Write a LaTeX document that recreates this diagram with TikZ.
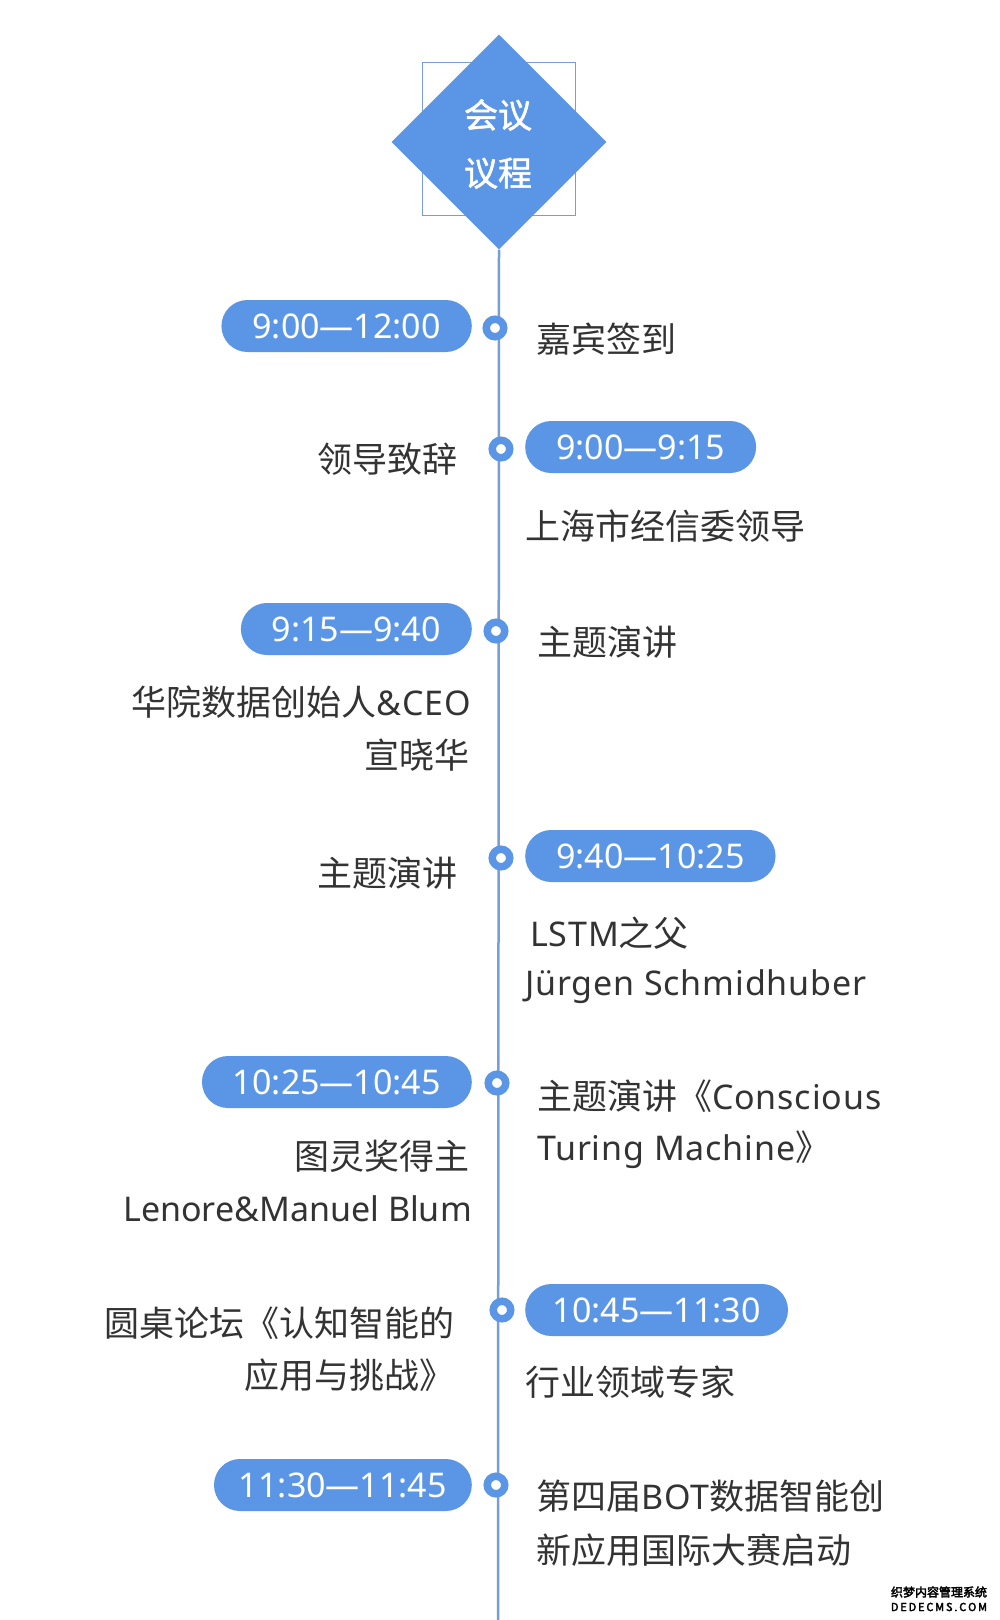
\documentclass[tikz,border=0pt]{standalone}
\usepackage{fontspec}
\newfontfamily\cjk{Noto Sans CJK SC}
\newfontfamily\cjktitle[FakeBold=1.5]{Noto Sans CJK SC}
\newfontfamily\lat{Noto Sans}
\newfontfamily\latwide[LetterSpace=2.5]{Noto Sans}
\newfontfamily\wmfont[FakeBold=3]{Noto Sans CJK SC}
\usetikzlibrary{shapes.geometric,positioning}
\definecolor{agblue}{HTML}{5B96E6}
\definecolor{agline}{HTML}{789FD4}
\definecolor{agtext}{HTML}{333333}
\newcommand\en[1]{{\latwide\fontsize{34}{40}\selectfont #1}}
\newcommand\enplain[1]{{\lat\fontsize{34}{40}\selectfont #1}}
\tikzset{
	timepill/.style={
		rectangle,
		rounded corners=26pt,
		fill=agblue,
		text=white,
		minimum height=52pt,
		inner xsep=31pt, inner ysep=0pt,
		text height=24.5pt, text depth=0pt,
		font=\lat\fontsize{34}{40}\selectfont},
	agenda/.style={
		inner sep=0pt,
		text=agtext,
		text height=31pt, text depth=4pt,
		font=\cjk\fontsize{35}{40}\selectfont},
	timedot/.style={
		circle,
		fill=white, draw=agblue,
		line width=7.5pt,
		minimum size=17.5pt, inner sep=0pt},
	timeline/.style={draw=agline, line width=2.5pt},
	titlebox/.style={
		diamond, fill=agblue,
		minimum width=215pt, minimum height=215pt,
		inner sep=0pt},
	titleframe/.style={
		rectangle, draw=agline, line width=1.5pt,
		minimum size=153pt, inner sep=0pt},
}

\begin{document}
\begin{tikzpicture}[x=1pt,y=-1pt]
\useasboundingbox[fill=white] (0,0) rectangle (1000,1620);

% title
\node[titleframe] (frame) at (499,139) {};
\node[titlebox] (title) at (499,142) {};
\node[text=white, align=center, font=\cjktitle\fontsize{34}{58}\selectfont] (titletext) at (498,144) {会议\\议程};

% main line
\coordinate (lineend) at (498,1620);
\draw[timeline] (title.south) -- (lineend);

% 1
\node[timepill, anchor=east] (pill1) at (472,326) {9:00—12:00};
\node[timedot] (dot1) at (495,328) {};
\node[agenda, anchor=west] (r1) at (536,339) {嘉宾签到};

% 2
\node[agenda, anchor=east] (l2) at (458,459) {领导致辞};
\node[timedot] (dot2) at (501,449) {};
\node[timepill, anchor=west] (pill2) at (525,447) {9:00—9:15};
\node[agenda, anchor=west] (r2) at (525,526) {上海市经信委领导};

% 3
\node[timepill, anchor=east] (pill3) at (472,629) {9:15—9:40};
\node[timedot] (dot3) at (496,631) {};
\node[agenda, anchor=west] (r3) at (537,642) {主题演讲};
\node[agenda, anchor=east] (l3a) at (471,702) {华院数据创始人\en{\&CEO}};
\node[agenda, anchor=east] (l3b) at (470,755) {宣晓华};

% 4
\node[agenda, anchor=east] (l4) at (458,873) {主题演讲};
\node[timedot] (dot4) at (501,858) {};
\node[timepill, anchor=west] (pill4) at (525,856) {9:40—10:25};
\node[agenda, anchor=west] (r4a) at (530,933) {\en{LSTM}之父};
\node[agenda, anchor=west] (r4b) at (525,982) {\en{Jürgen Schmidhuber}};

% 5
\node[timepill, anchor=east] (pill5) at (472,1082) {10:25—10:45};
\node[timedot] (dot5) at (497,1083) {};
\node[agenda, anchor=west] (r5a) at (537,1096) {主题演讲《\en{Conscious}};
\node[agenda, anchor=west] (r5b) at (537,1147) {\en{Turing Machine}》};
\node[agenda, anchor=east] (l5a) at (470,1156) {图灵奖得主};
\node[agenda, anchor=east] (l5b) at (472,1208) {\enplain{Lenore\&Manuel Blum}};

% 6
\node[agenda, anchor=east] (l6a) at (455,1323) {圆桌论坛《认知智能的};
\node[agenda, anchor=east] (l6b) at (455,1375) {应用与挑战》};
\node[timedot] (dot6) at (502,1310) {};
\node[timepill, anchor=west, inner xsep=27.5pt] (pill6) at (525,1310) {10:45—11:30};
\node[agenda, anchor=west] (r6) at (525,1382) {行业领域专家};

% 7
\node[timepill, anchor=east, inner xsep=25pt] (pill7) at (472,1485) {11:30—11:45};
\node[timedot] (dot7) at (496,1485) {};
\node[agenda, anchor=west] (r7a) at (536,1496) {第四届\en{BOT}数据智能创};
\node[agenda, anchor=west] (r7b) at (536,1550) {新应用国际大赛启动};

% watermark
\node[inner sep=0pt, font=\wmfont\fontsize{12}{12}\selectfont] (wm1) at (939,1592) {织梦内容管理系统};
\node[inner sep=0pt, font=\wmfont\fontsize{11}{11}\selectfont] (wm2) at (939,1607) {D\,E\,D\,E\,C\,M\,S\,.\,C\,O\,M};
\end{tikzpicture}
\end{document}
